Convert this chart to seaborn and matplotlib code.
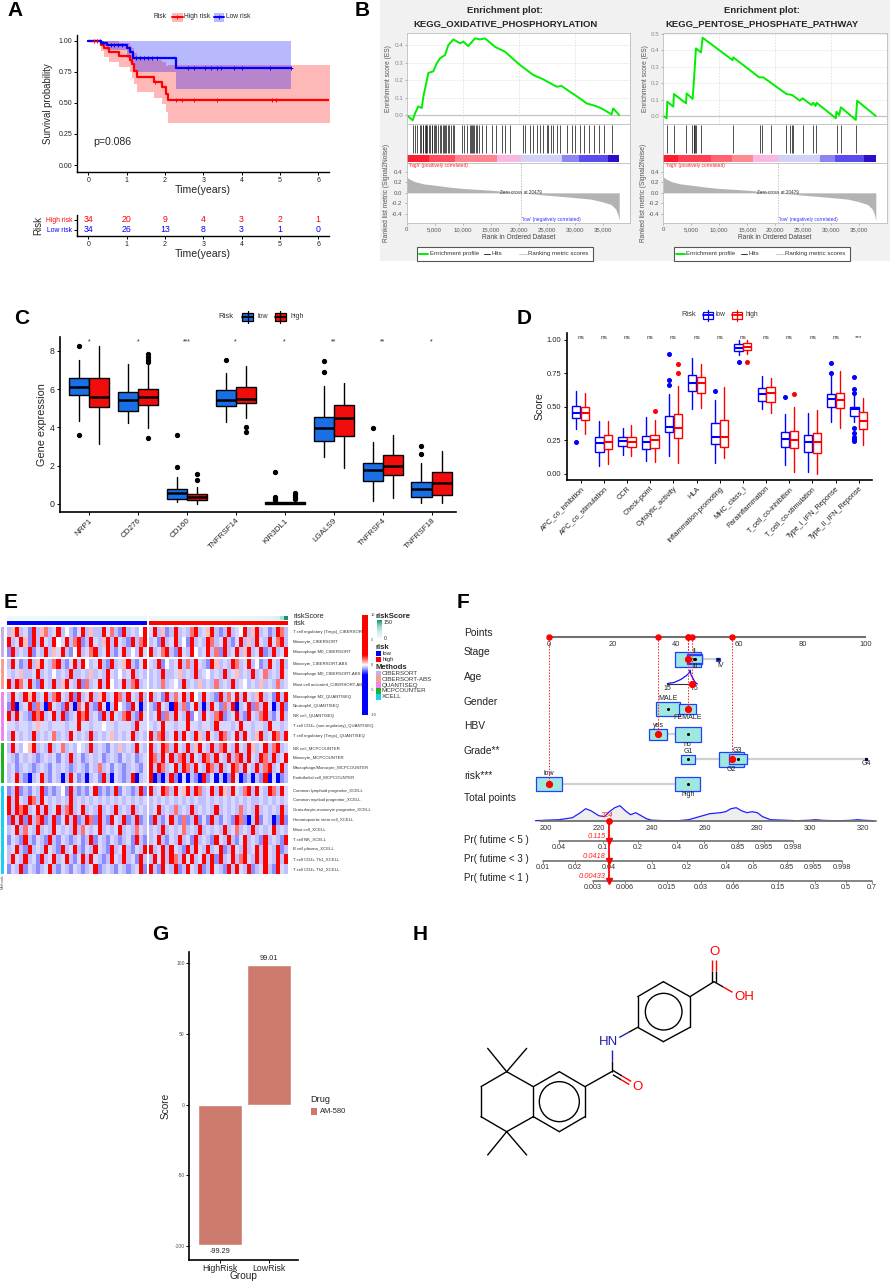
import numpy as np
import pandas as pd
import matplotlib
matplotlib.use("Agg")
import matplotlib.pyplot as plt
import seaborn as sns
from matplotlib.patches import Rectangle, Circle
from matplotlib.colors import LinearSegmentedColormap, ListedColormap

# ======================= DATA =======================
# ---- A: Kaplan-Meier ----
km_high_t = [0.0, 0.33, 0.42, 0.55, 0.80, 1.10, 1.14, 1.18, 1.28, 1.72, 1.93, 2.03, 2.08]
km_high_s = [1.0, 0.971, 0.941, 0.912, 0.882, 0.850, 0.815, 0.760, 0.710, 0.670, 0.625, 0.570, 0.520]
km_high_lo = [1.0, 0.92, 0.87, 0.83, 0.79, 0.75, 0.70, 0.65, 0.59, 0.54, 0.49, 0.43, 0.335]
km_high_hi = [1.0, 1.0, 1.0, 1.0, 0.98, 0.96, 0.94, 0.90, 0.87, 0.85, 0.83, 0.80, 0.81]
km_high_end = 6.3
km_low_t = [0.0, 0.32, 0.50, 1.02, 1.10, 1.16, 2.28]
km_low_s = [1.0, 0.985, 0.97, 0.94, 0.91, 0.86, 0.78]
km_low_lo = [1.0, 0.96, 0.93, 0.86, 0.82, 0.75, 0.61]
km_low_hi = [1.0, 1.0, 1.0, 1.0, 1.0, 1.0, 1.0]
km_low_end = 5.3
censor_high = [0.15, 0.22, 1.75, 2.3, 2.45, 2.75, 3.35, 4.8, 4.9]
censor_low = [0.3, 0.38, 0.6, 0.68, 0.78, 0.88, 1.25, 1.35, 1.45, 1.55, 1.65, 1.8,
              2.6, 2.75, 3.05, 3.2, 3.35, 3.45, 3.8, 4.0, 4.75, 5.3]
risk_times = [0, 1, 2, 3, 4, 5, 6]
n_high = [34, 20, 9, 4, 3, 2, 1]
n_low = [34, 26, 13, 8, 3, 1, 0]

# ---- B: GSEA (rank in thousands) ----
es1_rank = [0, 1.07, 1.49, 2.08, 2.68, 2.98, 3.87, 4.76, 5.36, 5.95, 6.85, 7.44, 8.33, 9.52, 10.12, 11.0,
            12.2, 13.1, 14.0, 15.77, 17.56, 20.24, 22.62, 24.4, 26.8, 27.68, 29.17, 30.95, 32.14, 33.81,
            34.82, 36.6, 36.9, 37.97]
es1_val = [0, -0.03, 0.01, 0.05, 0.04, 0.105, 0.24, 0.25, 0.295, 0.324, 0.343, 0.40, 0.432, 0.41, 0.419,
           0.394, 0.438, 0.432, 0.438, 0.39, 0.362, 0.286, 0.229, 0.204, 0.162, 0.166, 0.133, 0.095, 0.067,
           0.051, 0.038, 0.004, 0.038, 0.0]
es2_rank = [0, 0.6, 0.71, 1.79, 1.9, 4.05, 4.17, 5.24, 5.48, 5.83, 6.73, 7.02, 12.38, 12.5, 17.14, 17.86,
            22.02, 23.03, 24.4, 24.88, 26.49, 26.79, 27.2, 27.38, 30.83, 30.95, 31.43, 31.73, 34.4, 34.64, 37.97]
es2_val = [0, -0.014, 0.087, 0.057, 0.134, 0.077, 0.138, 0.104, 0.22, 0.413, 0.388, 0.478, 0.341, 0.358,
           0.236, 0.236, 0.134, 0.128, 0.093, 0.108, 0.067, 0.081, 0.061, 0.081, -0.014, 0.026, 0.006,
           0.053, -0.024, 0.093, 0.0]
hits1 = [1.2, 1.4, 1.8, 2.3, 2.6, 2.9, 3.0, 3.2, 3.4, 3.5, 3.7, 3.9, 4.2, 4.5, 4.6, 4.8, 5.0, 5.3, 5.6, 5.9,
         6.2, 6.4, 6.6, 6.9, 7.1, 7.3, 7.5, 7.9, 8.2, 8.5, 9.9, 10.3, 10.8, 11.3, 11.5, 11.7, 11.9, 12.1,
         12.3, 12.6, 13.0, 13.5, 14.1, 15.2, 15.9, 17.0, 17.6, 18.5, 20.8, 21.1, 22.1, 22.6, 23.2, 23.8,
         24.4, 25.0, 25.3, 25.7, 26.2, 26.8, 27.4, 28.6, 29.5, 30.1, 31.0, 31.6, 32.5, 33.4, 34.3, 35.2, 36.7]
hits2 = [0.6, 1.9, 4.0, 5.2, 5.4, 5.5, 5.7, 5.8, 6.8, 12.4, 17.3, 17.6, 19.2, 21.9, 22.7, 23.0, 23.2,
         24.9, 26.7, 27.3, 31.0, 31.7, 34.5]
seg1_bounds = [0, 3.9, 8.6, 16.1, 20.5, 27.7, 30.7, 36.0, 38.0]
seg1_colors = ['#ff1e2d', '#ff4d5d', '#ff8590', '#f8b8e2', '#d2d2f8', '#8c86f2', '#5a4cef', '#2a10c8']
seg2_bounds = [0, 2.7, 8.6, 12.2, 16.1, 20.5, 28.0, 30.7, 35.8, 38.0]
seg2_colors = ['#ff1e2d', '#ff4050', '#ff6570', '#ff8a92', '#f8b8e2', '#d2d2f8', '#8c86f2', '#5a4cef', '#2a10c8']
rm_rank = [0, 0.5, 1.5, 3, 5, 7.5, 10, 15, 20.48, 25, 30, 33, 35, 36.5, 37.3, 37.7, 37.97]
rm_val = [0.30, 0.26, 0.21, 0.17, 0.145, 0.11, 0.083, 0.05, 0.0, -0.044, -0.089, -0.12, -0.17, -0.22,
          -0.3, -0.4, -0.52]
b_xticks = [0, 5, 10, 15, 20, 25, 30, 35]
b_xtick_labels = ['0', '5,000', '10,000', '15,000', '20,000', '25,000', '30,000', '35,000']
b_titles = ['KEGG_OXIDATIVE_PHOSPHORYLATION', 'KEGG_PENTOSE_PHOSPHATE_PATHWAY']

# ---- C: immune checkpoint genes ----
genes_c = ['NRP1', 'CD276', 'CD160', 'TNFRSF14', 'KIR3DL1', 'LGALS9', 'TNFRSF4', 'TNFRSF18']
c_low_med = [6.09, 5.46, 0.56, 5.46, 0.05, 3.95, 1.77, 0.77]
c_low_q1 = [5.72, 4.87, 0.26, 5.11, 0.00, 3.29, 1.22, 0.35]
c_low_q3 = [6.61, 5.88, 0.77, 5.95, 0.12, 4.56, 2.12, 1.15]
c_low_wlo = [4.33, 4.21, 0.09, 4.30, 0.00, 2.47, 0.16, 0.03]
c_low_whi = [7.55, 7.34, 1.43, 6.87, 0.17, 6.16, 3.25, 2.12]
c_low_out = [[8.26, 3.60], [], [1.95, 3.63], [7.51], [0.21, 0.28, 0.35, 1.69], [6.90, 7.46], [3.95], [2.61, 3.03]]
c_high_med = [5.60, 5.60, 0.35, 5.48, 0.03, 4.52, 2.00, 1.11]
c_high_q1 = [5.08, 5.17, 0.21, 5.29, 0.00, 3.57, 1.51, 0.47]
c_high_q3 = [6.61, 6.03, 0.50, 6.09, 0.10, 5.17, 2.56, 1.69]
c_high_wlo = [3.13, 3.95, 0.02, 4.47, 0.00, 1.90, 0.33, 0.05]
c_high_whi = [8.28, 7.25, 0.90, 7.20, 0.20, 6.30, 3.63, 2.75]
c_high_out = [[], [7.43, 7.55, 7.69, 7.83, 3.43], [1.25, 1.57], [4.03, 3.77], [0.24, 0.35, 0.45, 0.56], [], [], []]
c_sig = ['*', '*', '***', '*', '*', '**', '**', '*']

# ---- D: immune function scores ----
d_cats = ['APC_co_inhibition', 'APC_co_stimulation', 'CCR', 'Check-point', 'Cytolytic_activity', 'HLA',
          'Inflammation-promoting', 'MHC_class_I', 'Parainflammation', 'T_cell_co-inhibition',
          'T_cell_co-stimulation', 'Type_I_IFN_Reponse', 'Type_II_IFN_Reponse']
d_low_med = [0.458, 0.229, 0.244, 0.241, 0.353, 0.682, 0.279, 0.943, 0.595, 0.259, 0.241, 0.557, 0.483]
d_low_q1 = [0.415, 0.167, 0.209, 0.187, 0.311, 0.622, 0.224, 0.918, 0.547, 0.199, 0.162, 0.498, 0.435]
d_low_q3 = [0.507, 0.279, 0.279, 0.284, 0.435, 0.739, 0.378, 0.968, 0.639, 0.316, 0.291, 0.595, 0.502]
d_low_wlo = [0.333, 0.062, 0.142, 0.097, 0.137, 0.483, 0.085, 0.888, 0.483, 0.067, 0.012, 0.386, 0.386]
d_low_whi = [0.622, 0.398, 0.341, 0.423, 0.595, 0.863, 0.552, 1.000, 0.731, 0.448, 0.458, 0.739, 0.595]
d_low_out = [[0.239], [], [], [], [0.893, 0.701, 0.664], [], [0.622], [0.838], [], [0.572], [],
             [0.826, 0.751], [0.721, 0.632, 0.607, 0.346, 0.303, 0.279, 0.259, 0.246]]
d_high_med = [0.453, 0.241, 0.241, 0.254, 0.341, 0.682, 0.274, 0.945, 0.602, 0.254, 0.241, 0.552, 0.398]
d_high_q1 = [0.403, 0.187, 0.204, 0.197, 0.266, 0.602, 0.199, 0.925, 0.540, 0.192, 0.159, 0.490, 0.336]
d_high_q3 = [0.497, 0.291, 0.279, 0.291, 0.445, 0.726, 0.403, 0.975, 0.647, 0.323, 0.308, 0.607, 0.465]
d_high_wlo = [0.296, 0.072, 0.137, 0.092, 0.080, 0.490, 0.117, 0.893, 0.453, 0.017, 0.000, 0.346, 0.216]
d_high_whi = [0.607, 0.398, 0.363, 0.403, 0.657, 0.821, 0.652, 1.000, 0.714, 0.502, 0.478, 0.769, 0.565]
d_high_out = [[], [], [], [0.470], [0.821, 0.756], [], [], [0.836], [], [0.597], [], [], []]
d_sig = ['ns'] * 12 + ['***']

# ---- E: immune cell infiltration heatmap ----
e_rows = ['T cell regulatory (Tregs)_CIBERSORT', 'Monocyte_CIBERSORT', 'Macrophage M0_CIBERSORT',
          'Monocyte_CIBERSORT-ABS', 'Macrophage M0_CIBERSORT-ABS', 'Mast cell activated_CIBERSORT-ABS',
          'Macrophage M2_QUANTISEQ', 'Neutrophil_QUANTISEQ', 'NK cell_QUANTISEQ',
          'T cell CD4+ (non-regulatory)_QUANTISEQ', 'T cell regulatory (Tregs)_QUANTISEQ',
          'NK cell_MCPCOUNTER', 'Monocyte_MCPCOUNTER', 'Macrophage/Monocyte_MCPCOUNTER',
          'Endothelial cell_MCPCOUNTER', 'Common lymphoid progenitor_XCELL', 'Common myeloid progenitor_XCELL',
          'Granulocyte-monocyte progenitor_XCELL', 'Hematopoietic stem cell_XCELL', 'Mast cell_XCELL',
          'T cell NK_XCELL', 'B cell plasma_XCELL', 'T cell CD4+ Th1_XCELL', 'T cell CD4+ Th2_XCELL']
e_methods = ['CIBERSORT', 'CIBERSORT-ABS', 'QUANTISEQ', 'MCPCOUNTER', 'XCELL']
e_method_sizes = [3, 3, 5, 4, 9]
e_method_colors = ['#c9aee6', '#f4a08c', '#ee86ee', '#1fb21f', '#1ad0f2']
# cell codes: B strong low ... R strong high (scaled values, low risk | high risk samples)
e_code_values = {'B': -2.0, 'b': -0.9, 'l': -0.5, 'm': -0.3, 'w': 0.0, 'p': 0.5, 'q': 1.1, 'R': 2.0}
e_cells = [
    "lpRlmbRlpq lmRlwlbmRl pllRmqlbRl mlwR | mRlpblRlml qRlmpRlblR lmwRlpRlmb lRql",
    "RlmRpbRlRm lRwmRlqRbl RmlpRlRmlb RlqR | lmbRlmRlwb RlmlRqlmRl bmRlplRmlR mqRl",
    "bRlmlRbmlR lpmRlbwRlm qRlmRlbmRl wlRm | RlmqRlbRml RwlmRlqbRl mRlpRlmRbl RlmR",
    "lRmblRlpRm lqRlbmRlRw lmRlbRlmpR lbmR | mlRbwlmRlq lRmlbRplml RqlmRlwblR mlRl",
    "mlmpllmRlm lwlmlRllml plmlRmlwlm Rlml | lmlRllmplm lRlmwlmlRl mplmlRlmql mlRm",
    "RlRqmRlbRm lRlpRmlRbq lmRlRwlmRl qRlm | lmlqlmwlRl mlplmlqlml Rlmwlmlplm lqlm",
    "lRmlRpRlmR lqRmlRbRlm RlpRlmRqlR mlRl | RlmbRlqmRl RwlRmlbRlq mRlRmlpRlm bRlR",
    "bRBlmRbqlB RmlbRlBqmR lbRmBlRwlb RmBl | lbRmlBRlqb mRlBlRmbql RBlmRbqlRm BlRb",
    "RlRmlbRqRl mRlRblmRqR lmbRlRmlqR lbRm | lmRbqlRmlR bwlRmlqRbl mRlbRmlqRl bmRl",
    "mmlmmlmpmm lmmmlmmRmm lmmwmmlmmm lRmm | mlmRmmlmmR mmlmmlRmmm lmRmmlmmlR mmlm",
    "lRmlmlRlml mqlmlRmlml Rlmlmplmlm Rlml | RlqRlmRlRm lRplRmlRql mRlRmlpRlm RqlR",
    "lRmlwpRlml Rlmqlmlwml Rlmlbmlplm lRml | RlmRqlRmlR lpRmlRlqRm lRmlRplmRl qRlm",
    "mlbmlmlblm lmbmlRlmbl mlmblmlbml mblm | RqlRmRlqRl RmlRqlRmlR lqRlRmlRql RlmR",
    "lmblmlblml bmlmlblmlb mlqlmbmlbl mlbm | RlRqlmRlRq lRmlRqlRlm RqlRmlRlqR lmRl",
    "lmRlbBlmRl bmlBlRmblB lmbRlBmlbl RBlm | RBbBlRbBmB lbBRbmBlBb RmBblBlbRB mBbl",
    "blRblbmlRb lblwbRlblb mRblblRbml blRb | RlmRqlRmpR lRqlmRlRpl RmlqRlRmlR qlRm",
    "RlRmlRqlRm lmlmlRlmlm lmlmlmlmlm lmlm | lmlmlmlmlm lmllmlmlml mlmlmllmlm lmlm",
    "RlRqRlmRlR lmRlqRlmRl mlRlmlRlml Rlml | lmRlmlqlml RlmlmlRlml mlqlmlRlml mlRl",
    "bRlRbRlqRb lRbmRlRblR qbRlbRmlRb lRbl | bRlbmRlbqb lRbmbRlbml bRqbBlRbml BbRb",
    "lmRlqmlRlm lRmlmlRlqm lmRlmlmRlm lqml | lmlRlmlmql mlRlmlmlRl mqlmlRlmlm Rlml",
    "bmlbRlbmlb Rlbmlblmbl Rbmlbmlblm bRlb | lmRlbmlRlm bRlmlbRmlR lbmRlmlbRl mlbR",
    "lmRlbRlmlR mlbRlmRlbm lRmlbRlmRl bmlR | RlmRlRmlbR lRmlRlmRbl RmlRlmRlRm lRbl",
    "lRmlRlmbRl mRlmRlbmRl RmlblRmlRl mbRl | lRmRlRqlRm RlmRlRbRlm RlqRmlRlRm lRlR",
    "bmlRbmlblm Rlbmlbmlbl mRblmlbmlb lmRb | RlbRmlRblR mlRblRmlbR lRmlRblmRl bRml",
]
risk_score_low = [0.8, 0.8, 0.9, 0.9, 0.9, 1.0, 1.0, 1.0, 1.1, 1.1, 1.1, 1.2, 1.2, 1.2, 1.3, 1.3, 1.3,
                  1.4, 1.4, 1.4, 1.5, 1.5, 1.5, 1.6, 1.6, 1.6, 1.7, 1.7, 1.7, 1.8, 1.8, 1.9, 1.9, 2.0]
risk_score_high = [2.1, 2.2, 2.3, 2.4, 2.5, 2.6, 2.7, 2.9, 3.0, 3.2, 3.4, 3.6, 3.8, 4.0, 4.3, 4.6, 5.0,
                   5.4, 5.8, 6.3, 6.9, 7.5, 8.2, 9.0, 10.0, 11.2, 12.6, 14.5, 17.0, 20.5, 26.0, 36.0, 80.0, 150.0]
risk_group_low = ['low'] * 34
risk_group_high = ['high'] * 34

# ---- F: nomogram (points scale 0-100) ----
stage_levels = ['I', 'II', 'III', 'IV']
stage_pts = [43.8, 45.8, 46.0, 53.2]
stage_box = [(26, 15), (15, 10), (14, 8), (4, 3)]
age_ticks = [15, 75]
age_pts_ends = [37.3, 45.8]
age_dens_x = [15, 20, 25, 30, 35, 40, 45, 50, 54, 57, 60, 63, 66, 68, 70, 73, 76, 79, 82]
age_dens_h = [0.3, 0.8, 1.2, 1.5, 2.5, 3.5, 4.5, 6.0, 7.5, 8.0, 9.5, 10.5, 14.0, 9.0, 7.5, 5.0, 2.5, 1.0, 0.0]
age_selected = 71
gender_levels = ['MALE', 'FEMALE']
gender_pts = [37.5, 43.8]
gender_box = [(24, 14.3), (17.3, 10.3)]
hbv_levels = ['yes', 'no']
hbv_pts = [34.4, 43.8]
hbv_box = [(18.3, 11), (25.7, 15)]
grade_levels = ['G1', 'G2', 'G3', 'G4']
grade_pts = [43.8, 57.6, 59.5, 100.0]
grade_box = [(14, 9), (24.7, 15), (18, 10.7), (2.7, 2.3)]
riskf_levels = ['low', 'high']
riskf_pts = [0.0, 43.8]
riskf_box = [(25.3, 14.7), (25, 14.7)]
sel_points = {'Stage': 43.8, 'Age': 45.2, 'Gender': 43.8, 'HBV': 34.4, 'Grade': 57.6, 'risk': 0.0}
total_ticks = [200, 220, 240, 260, 280, 300, 320]
tot_dens_x = [196, 200, 205, 210, 213, 215, 217, 220, 222, 224, 226, 228, 230, 232, 234, 236, 238, 240, 245,
              250, 254, 258, 262, 266, 268, 270, 272, 274, 276, 278, 280, 282, 285, 290, 295, 300, 302, 305,
              310, 315, 318, 320, 324]
tot_dens_h = [0, 0.5, 1, 3, 8, 12, 10, 5, 4, 9, 13, 15, 10, 6, 8, 5, 2, 0.5, 0, 0, 1, 4, 7, 8, 9, 12, 13, 10,
              8, 9, 8, 4, 1, 0.5, 0, 0.5, 1, 0.3, 0, 0.3, 1, 0.5, 0]
total_selected = 224
pr5_labels = ['0.04', '0.1', '0.2', '0.4', '0.6', '0.85', '0.965', '0.998']
pr5_tot = [204.9, 221.6, 234.8, 249.6, 259.8, 272.7, 282.5, 293.5]
pr3_labels = ['0.01', '0.02', '0.04', '0.1', '0.2', '0.4', '0.6', '0.85', '0.965', '0.998']
pr3_tot = [198.9, 211.0, 223.8, 240.1, 253.4, 268.1, 278.3, 291.2, 301.1, 312.0]
pr1_labels = ['0.003', '0.006', '0.015', '0.03', '0.06', '0.15', '0.3', '0.5', '0.7']
pr1_tot = [217.8, 229.9, 245.8, 258.7, 270.8, 287.8, 301.8, 313.6, 323.4]
pr_selected = ['0.115', '0.0418', '0.00433']

# ---- G: drug sensitivity ----
g_groups = ['HighRisk', 'LowRisk']
g_scores = [-99.29, 99.01]
g_drug = 'AM-580'

# ---- H: AM-580 structure (drawing coordinates) ----
mol_atoms = [(290, 395), (233, 325), (350, 325), (213, 440), (213, 530), (290, 575), (233, 645), (350, 645),
             (370, 530), (370, 440), (448, 395), (525, 440), (525, 530), (448, 575), (605, 395), (680, 440),
             (605, 305), (683, 262), (683, 170), (760, 125), (840, 170), (840, 262), (760, 305), (912, 125),
             (912, 35), (990, 170)]
mol_bonds = [(0, 1), (0, 2), (0, 3), (3, 4), (4, 5), (5, 6), (5, 7), (5, 8), (0, 9), (8, 9), (9, 10), (10, 11),
             (11, 12), (12, 13), (13, 8), (11, 14), (17, 18), (18, 19), (19, 20), (20, 21), (21, 22), (22, 17),
             (20, 23)]
mol_rings = [((448, 485), 60), ((761, 215), 55)]

# ======================= FIGURE =======================
sns.set_theme(style="white")
plt.rcParams['font.family'] = ['Liberation Sans', 'DejaVu Sans']
plt.rcParams['axes.unicode_minus'] = False
NARROW = ['Liberation Sans Narrow', 'Liberation Sans', 'DejaVu Sans']

W, H = 892, 1281
fig = plt.figure(figsize=(W / 100, H / 100), dpi=100)
fig.patch.set_facecolor('white')


def add_ax(x0, y0, x1, y1, **kw):
    return fig.add_axes([x0 / W, 1 - y1 / H, (x1 - x0) / W, (y1 - y0) / H], **kw)


def px_axes(z):
    a = fig.add_axes([0, 0, 1, 1], zorder=z)
    a.set_xlim(0, W)
    a.set_ylim(H, 0)
    a.axis('off')
    a.patch.set_alpha(0)
    return a


bg = px_axes(-10)
ov = px_axes(20)


def gg(ax, lw=1.0, size=5.0):
    for s in ['top', 'right']:
        ax.spines[s].set_visible(False)
    for s in ['left', 'bottom']:
        ax.spines[s].set_color('black')
        ax.spines[s].set_linewidth(lw)
    ax.tick_params(axis='both', which='both', direction='out', length=2.5, width=0.7, color='black',
                   labelcolor='#222222', pad=1.2, labelsize=size, bottom=True, left=True)
    ax.set_facecolor('none')


# panel letters
for lab, x, y, fam in [('A', 15, 10, None), ('B', 362, 10, None), ('C', 22, 318, None), ('D', 524, 318, None),
                       ('E', 11, 602, None), ('F', 463, 602, None), ('G', 160, 935, NARROW),
                       ('H', 420, 935, NARROW)]:
    kw = dict(fontsize=15, fontweight='bold', ha='center', va='center', color='black')
    if fam:
        kw['family'] = fam
    ov.text(x, y, lab, **kw)

# ---------------- A ----------------
def ext(t, v, end):
    return np.append(np.asarray(t, float), end), np.append(np.asarray(v, float), v[-1])


th, sh = ext(km_high_t, km_high_s, km_high_end)
_, loh = ext(km_high_t, km_high_lo, km_high_end)
_, hih = ext(km_high_t, km_high_hi, km_high_end)
tl, sl = ext(km_low_t, km_low_s, km_low_end)
_, lol = ext(km_low_t, km_low_lo, km_low_end)
_, hil = ext(km_low_t, km_low_hi, km_low_end)

axA = add_ax(77.3, 35, 329, 171.7)
gg(axA, 1.0, 5.0)
axA.fill_between(th, loh, hih, step='post', color='#ff0000', alpha=0.28, lw=0)
axA.fill_between(tl, lol, hil, step='post', color='#0000ff', alpha=0.28, lw=0)
sns.lineplot(x=th, y=sh, ax=axA, color='#ff0000', lw=1.6, drawstyle='steps-post', estimator=None, sort=False)
sns.lineplot(x=tl, y=sl, ax=axA, color='#0000ff', lw=1.6, drawstyle='steps-post', estimator=None, sort=False)


def surv_at(t_arr, s_arr, c):
    return s_arr[np.searchsorted(t_arr, c, side='right') - 1]


axA.plot(censor_high, [surv_at(th, sh, c) for c in censor_high], '+', color='#ff0000', ms=3.5, mew=0.7)
axA.plot(censor_low, [surv_at(tl, sl, c) for c in censor_low], '+', color='#0000ff', ms=3.5, mew=0.7)
axA.set_xlim(-0.287, 6.28)
axA.set_ylim(-0.054, 1.048)
axA.set_xticks(risk_times)
axA.set_yticks([0, 0.25, 0.5, 0.75, 1.0])
axA.set_yticklabels(['0.00', '0.25', '0.50', '0.75', '1.00'])
axA.set_xlabel('Time(years)', fontsize=7.6, labelpad=0.5)
axA.set_ylabel('Survival probability', fontsize=6.9, labelpad=4)
axA.text(0.12, 0.185, 'p=0.086', fontsize=7.6, ha='left', va='center')

ov.text(154, 17, 'Risk', fontsize=4.8, ha='left', va='center')
for x0, col, lab in [(172, '#ff0000', 'High risk'), (213.5, '#0000ff', 'Low risk')]:
    ov.add_patch(Rectangle((x0, 12.5), 10.5, 9, color=col, alpha=0.28, lw=0))
    ov.plot([x0, x0 + 10.5], [17, 17], color=col, lw=1.4)
    ov.plot([x0 + 5.2], [17], '+', color=col, ms=3, mew=0.7)
    ov.text(x0 + 12.5, 17, lab, fontsize=4.8, ha='left', va='center')

axR = add_ax(77.3, 215, 329, 236)
gg(axR, 1.0, 5.0)
axR.set_xlim(-0.287, 6.28)
axR.set_ylim(-0.6, 1.5)
for t, a, b in zip(risk_times, n_high, n_low):
    axR.text(t, 1, str(a), color='#ff0000', ha='center', va='center', fontsize=6.3)
    axR.text(t, 0, str(b), color='#0000ff', ha='center', va='center', fontsize=6.3)
axR.set_xticks(risk_times)
axR.set_yticks([1, 0])
axR.set_yticklabels(['High risk', 'Low risk'], fontsize=4.9)
for tkl, col in zip(axR.get_yticklabels(), ['#ff0000', '#0000ff']):
    tkl.set_color(col)
axR.set_xlabel('Time(years)', fontsize=7.6, labelpad=0.5)
axR.set_ylabel('Risk', fontsize=7, labelpad=2)

# ---------------- B ----------------
bg.add_patch(Rectangle((380, 0), 510, 261, color='#f1f1f1', lw=0))


def gsea_panel(x0, es_ylim, es_r, es_v, hits, sb, sc, title2, es_ticks):
    x1 = x0 + 223.3
    cx = x0 + 98.3
    ov.text(cx, 10.7, 'Enrichment plot:', fontsize=6.8, fontweight='bold', ha='center', va='center')
    ov.text(cx, 24, title2, fontsize=6.8, fontweight='bold', ha='center', va='center')
    axE = add_ax(x0, 33.3, x1, 124)
    axE.set_facecolor('white')
    for s in axE.spines.values():
        s.set_color('#bdbdbd')
        s.set_linewidth(0.6)
    for v in [10, 20, 30]:
        axE.axvline(v, color='#d9d9d9', lw=0.5, ls=(0, (2, 2)))
    for v in es_ticks[1:]:
        axE.axhline(v, color='#d9d9d9', lw=0.5, ls=(0, (2, 2)))
    axE.axhline(0, color='#c4c4c4', lw=0.9)
    sns.lineplot(x=es_r, y=es_v, ax=axE, color='#00ee00', lw=1.4, estimator=None, sort=False)
    axE.set_xlim(0, 39.9)
    axE.set_ylim(*es_ylim)
    axE.set_xticks([])
    axE.set_yticks(es_ticks)
    axE.set_yticklabels(['%.1f' % v for v in es_ticks])
    axE.tick_params(axis='y', labelsize=4.5, labelcolor='#8a8a8a', length=1.5, width=0.5, color='#999999',
                    left=True, pad=1)
    axE.set_ylabel('Enrichment score (ES)', fontsize=4.8, color='#555555', labelpad=1.5)

    axHt = add_ax(x0, 124, x1, 163)
    axHt.set_facecolor('white')
    for s in axHt.spines.values():
        s.set_color('#bdbdbd')
        s.set_linewidth(0.6)
    axHt.vlines(hits, 0.23, 0.97, color='#202020', lw=0.55)
    for a, b, c in zip(sb[:-1], sb[1:], sc):
        axHt.add_patch(Rectangle((a, 0.0), b - a, 0.2, color=c, lw=0))
    axHt.set_xlim(0, 39.9)
    axHt.set_ylim(-0.02, 1)
    axHt.set_xticks([])
    axHt.set_yticks([])

    axM = add_ax(x0, 163, x1, 223)
    axM.set_facecolor('white')
    for s in axM.spines.values():
        s.set_color('#bdbdbd')
        s.set_linewidth(0.6)
    axM.fill_between(rm_rank, 0, rm_val, color='#b3b3b3', lw=0)
    axM.axvline(20.479, color='#aaaaaa', lw=0.5, ls=(0, (2, 2)))
    axM.text(20.479, 0.0, 'Zero cross at 20479', fontsize=3.3, ha='center', va='center', color='#333333')
    axM.text(0.5, 0.51, "'high' (positively correlated)", fontsize=3.4, ha='left', va='center', color='#ff2020')
    axM.text(25.9, -0.5, "'low' (negatively correlated)", fontsize=3.4, ha='center', va='center', color='#3030ff')
    axM.set_xlim(0, 39.9)
    axM.set_ylim(-0.57, 0.564)
    axM.set_yticks([-0.4, -0.2, 0.0, 0.2, 0.4])
    axM.set_yticklabels(['-0.4', '-0.2', '0.0', '0.2', '0.4'])
    axM.set_xticks(b_xticks)
    axM.set_xticklabels(b_xtick_labels)
    axM.tick_params(axis='both', labelsize=4.3, labelcolor='#555555', length=1.5, width=0.5, color='#999999',
                    left=True, bottom=True, pad=1.5)
    axM.set_xlabel('Rank in Ordered Dataset', fontsize=4.8, color='#444444', labelpad=1.5)
    axM.set_ylabel('Ranked list metric (Signal2Noise)', fontsize=4.8, color='#555555', labelpad=1.5)

    lx = x0 + 10.3
    ov.add_patch(Rectangle((lx, 247), 176, 13.5, facecolor='white', edgecolor='#555555', lw=0.8))
    ov.plot([lx + 2, lx + 11], [253.7, 253.7], color='#00ee00', lw=1.4)
    ov.text(lx + 12.5, 253.7, 'Enrichment profile', fontsize=4.4, ha='left', va='center', color='#333333')
    ov.plot([lx + 67, lx + 73], [253.7, 253.7], color='#333333', lw=0.7)
    ov.text(lx + 75, 253.7, 'Hits', fontsize=4.4, ha='left', va='center', color='#333333')
    ov.plot([lx + 102, lx + 110], [253.7, 253.7], color='#cfcfcf', lw=0.8)
    ov.text(lx + 111.5, 253.7, 'Ranking metric scores', fontsize=4.4, ha='left', va='center', color='#333333')


gsea_panel(406.7, (-0.051, 0.467), es1_rank, es1_val, hits1, seg1_bounds, seg1_colors, b_titles[0],
           [0.0, 0.1, 0.2, 0.3, 0.4])
gsea_panel(663.3, (-0.049, 0.505), es2_rank, es2_val, hits2, seg2_bounds, seg2_colors, b_titles[1],
           [0.0, 0.1, 0.2, 0.3, 0.4, 0.5])


# ---------------- C ----------------
def make_stats(med, q1, q3, wlo, whi, out):
    return [dict(med=m, q1=a, q3=b, whislo=c, whishi=d, fliers=np.array(f, float))
            for m, a, b, c, d, f in zip(med, q1, q3, wlo, whi, out)]


axC = add_ax(60, 337, 456, 512)
gg(axC, 1.2, 6.3)
pos = np.arange(len(genes_c))
for stats, off, col in [(make_stats(c_low_med, c_low_q1, c_low_q3, c_low_wlo, c_low_whi, c_low_out), -0.205, '#1a6fe6'),
                        (make_stats(c_high_med, c_high_q1, c_high_q3, c_high_wlo, c_high_whi, c_high_out), 0.205, '#f20d0d')]:
    axC.bxp(stats, positions=pos + off, widths=0.41, patch_artist=True, showcaps=False, manage_ticks=False,
            boxprops=dict(facecolor=col, edgecolor='black', linewidth=1.0),
            medianprops=dict(color='black', linewidth=1.8),
            whiskerprops=dict(color='black', linewidth=1.0),
            flierprops=dict(marker='o', markerfacecolor='black', markeredgecolor='black', markersize=2.8,
                            linestyle='none'))
for i, s in enumerate(c_sig):
    axC.text(i, 8.5, s, fontsize=5, ha='center', va='center')
axC.set_xlim(-0.59, 7.5)
axC.set_ylim(-0.42, 8.73)
axC.set_yticks([0, 2, 4, 6, 8])
axC.set_xticks(pos)
axC.set_xticklabels(genes_c, rotation=45, ha='right', va='top', rotation_mode='anchor', fontsize=5.8)
axC.set_ylabel('Gene expression', fontsize=7.8, labelpad=2)


def box_icon(x0, y0, w, h, face, edge, lw=0.9):
    ov.plot([x0 + w / 2, x0 + w / 2], [y0 - 2, y0 + h + 2], color=edge, lw=lw)
    ov.add_patch(Rectangle((x0, y0), w, h, facecolor=face, edgecolor=edge, lw=lw))
    ov.plot([x0, x0 + w], [y0 + h / 2, y0 + h / 2], color=edge, lw=lw + 0.4)


ov.text(218, 317, 'Risk', fontsize=5.6, ha='left', va='center', color='#333333')
box_icon(242, 313, 11, 8, '#1a6fe6', 'black')
ov.text(257, 317, 'low', fontsize=5.0, ha='left', va='center', color='#333333')
box_icon(274.5, 313, 11, 8, '#f20d0d', 'black')
ov.text(290.5, 317, 'high', fontsize=5.0, ha='left', va='center', color='#333333')

# ---------------- D ----------------
axD = add_ax(566.7, 333, 872.3, 480)
gg(axD, 1.2, 5.4)
posd = np.arange(len(d_cats))
for stats, off, col in [(make_stats(d_low_med, d_low_q1, d_low_q3, d_low_wlo, d_low_whi, d_low_out), -0.19, '#0000ff'),
                        (make_stats(d_high_med, d_high_q1, d_high_q3, d_high_wlo, d_high_whi, d_high_out), 0.19, '#ff0000')]:
    axD.bxp(stats, positions=posd + off, widths=0.36, patch_artist=True, showcaps=False, manage_ticks=False,
            boxprops=dict(facecolor='white', edgecolor=col, linewidth=1.0),
            medianprops=dict(color=col, linewidth=1.5),
            whiskerprops=dict(color=col, linewidth=1.0),
            flierprops=dict(marker='o', markerfacecolor=col, markeredgecolor=col, markersize=2.6,
                            linestyle='none'))
for i, s in enumerate(d_sig):
    axD.text(i, 1.02, s, fontsize=4.6, ha='center', va='center', color='#333333')
axD.set_xlim(-0.6, 12.58)
axD.set_ylim(-0.045, 1.052)
axD.set_yticks([0, 0.25, 0.5, 0.75, 1.0])
axD.set_yticklabels(['0.00', '0.25', '0.50', '0.75', '1.00'])
axD.set_xticks(posd)
axD.set_xticklabels(d_cats, rotation=45, ha='right', va='top', rotation_mode='anchor', fontsize=5.2)
axD.set_ylabel('Score', fontsize=7.6, labelpad=2)

ov.text(681, 315, 'Risk', fontsize=5.4, ha='left', va='center', color='#333333')
box_icon(702.5, 311.5, 10, 7, 'white', '#0000ff')
ov.text(716, 315, 'low', fontsize=4.8, ha='left', va='center', color='#333333')
box_icon(732, 311.5, 10, 7, 'white', '#ff0000')
ov.text(745, 315, 'high', fontsize=4.8, ha='left', va='center', color='#333333')

# ---------------- E ----------------
e_cmap = LinearSegmentedColormap.from_list('bwr_e', ['#0000ff', '#ffffff', '#ff0000'])
e_vals = []
for s in e_cells:
    halves = s.split('|')
    e_vals.append([[e_code_values[c] for c in (h.replace(' ', '') + 'l' * 34)[:34]] for h in halves])
e_group_y = [(627.3, 656.7), (659.0, 689.0), (691.7, 740.7), (743.3, 782.7), (785.7, 874.0)]
e_cols_x = [(7, 147), (149, 288)]

rs_cmap = LinearSegmentedColormap.from_list('rs', ['#eef9f9', '#cdeeea', '#8fd5c9', '#12966a'])
risk_cmap = ListedColormap(['#0000ff', '#ff0000'])
for (xa, xb), scores, groups in zip(e_cols_x, [risk_score_low, risk_score_high], [risk_group_low, risk_group_high]):
    a = add_ax(xa, 616, xb, 620)
    sns.heatmap(np.array(scores)[None, :], ax=a, cmap=rs_cmap, vmin=0, vmax=150, cbar=False,
                xticklabels=False, yticklabels=False)
    b = add_ax(xa, 621, xb, 625)
    sns.heatmap(np.array([[0 if g == 'low' else 1 for g in groups]]), ax=b, cmap=risk_cmap, vmin=0, vmax=1,
                cbar=False, xticklabels=False, yticklabels=False)
ov.text(293, 617, 'riskScore', fontsize=5.3, ha='left', va='center', color='#222222')
ov.text(293, 623.5, 'risk', fontsize=5.3, ha='left', va='center', color='#222222')

r0 = 0
for gi, (size, (ya, yb)) in enumerate(zip(e_method_sizes, e_group_y)):
    for half, (xa, xb) in enumerate(e_cols_x):
        mat = np.array([e_vals[r][half] for r in range(r0, r0 + size)])
        a = add_ax(xa, ya, xb, yb)
        sns.heatmap(mat, ax=a, cmap=e_cmap, vmin=-2, vmax=2, cbar=False, xticklabels=False, yticklabels=False)
    ov.add_patch(Rectangle((0.5, ya), 3.6, yb - ya, color=e_method_colors[gi], lw=0))
    rh = (yb - ya) / size
    for k in range(size):
        ov.text(293, ya + (k + 0.5) * rh, e_rows[r0 + k], fontsize=3.1, ha='left', va='center', color='#333333')
    r0 += size
ov.text(2.5, 882, 'Methods', fontsize=2.8, rotation=90, ha='center', va='center', color='#555555')

# legend for E
axCb = add_ax(362, 615, 368, 715)
axCb.imshow(np.linspace(10, -10, 200)[:, None], aspect='auto', cmap=e_cmap, vmin=-2, vmax=2)
axCb.axis('off')
for v in [10, 5, 0, -5, -10]:
    ov.text(370.5, 615 + (10 - v) / 20 * 100, str(v), fontsize=2.9, ha='left', va='center', color='#444444')
ov.text(375.5, 616, 'riskScore', fontsize=5.6, fontweight='bold', ha='left', va='center')
axRs = add_ax(376.5, 620, 381.5, 638)
axRs.imshow(np.linspace(150, 0, 60)[:, None], aspect='auto', cmap=rs_cmap, vmin=0, vmax=150)
axRs.axis('off')
ov.text(383.3, 622.3, '150', fontsize=3.8, ha='left', va='center')
ov.text(383.3, 639, '0', fontsize=3.8, ha='left', va='center')
ov.text(375.5, 647.3, 'risk', fontsize=5.6, fontweight='bold', ha='left', va='center')
ov.add_patch(Rectangle((376, 651), 5.3, 5.3, color='#0000ff', lw=0))
ov.add_patch(Rectangle((376, 656.5), 5.3, 5.3, color='#ff0000', lw=0))
ov.text(382.7, 653.6, 'low', fontsize=4.3, ha='left', va='center')
ov.text(382.7, 659.2, 'high', fontsize=4.3, ha='left', va='center')
ov.text(375, 667.3, 'Methods', fontsize=5.6, fontweight='bold', ha='left', va='center')
for k, (m, c) in enumerate(zip(e_methods, e_method_colors)):
    yy = 673.3 + k * 5.85
    ov.add_patch(Rectangle((376, yy - 2.8), 5.3, 5.6, color=c, lw=0))
    ov.text(381.8, yy, m, fontsize=4.5, ha='left', va='center', color='#333333')

# ---------------- F ----------------
PXS = 3.17
axF = add_ax(440, 595, 892, 905)
axF.set_xlim((440 - 549) / PXS, (892 - 549) / PXS)
axF.set_ylim(905, 595)
axF.axis('off')


def tp(total):
    return (546 + (np.asarray(total, float) - 200) / 0.3785 - 549) / PXS


f_row_labels = ['Points', 'Stage', 'Age', 'Gender', 'HBV', 'Grade**', 'risk***', 'Total points',
                'Pr( futime < 5 )', 'Pr( futime < 3 )', 'Pr( futime < 1 )']
f_row_label_y = [633.3, 651.7, 676.7, 701.7, 726, 751.3, 776, 798.3, 840, 859.3, 878.3]
LX = (464 - 549) / PXS
for lab, yy in zip(f_row_labels, f_row_label_y):
    fs = 7.4 if not lab.startswith('Pr') else 7.0
    axF.text(LX, yy, lab, fontsize=fs, ha='left', va='center', color='#222222')

# points axis
axF.plot([0, 100], [637, 637], color='#707070', lw=1.5, solid_capstyle='butt')
for v in range(0, 101, 20):
    axF.text(v, 644.5, str(v), fontsize=5.4, ha='center', va='center', color='#333333')

BOXF = '#9fe8df'
BOXE = '#2040ff'


def nomo_row(y, pts, boxes, labels, places, red_idx=None):
    axF.plot([min(pts), max(pts)], [y, y], color='#d0d0d0', lw=1.6, zorder=1)
    for p, (w, h), lab, pl in zip(pts, boxes, labels, places):
        axF.add_patch(Rectangle((p - w / 2 / PXS, y - h / 2), w / PXS, h, facecolor=BOXF, edgecolor=BOXE,
                                lw=0.9, zorder=2))
        axF.plot([p], [y], 'o', color='black', ms=1.2, zorder=3)
        if pl == 'above':
            axF.text(p, y - h / 2 - 3.2, lab, fontsize=5.0, ha='center', va='center', color='#222222')
        elif pl == 'below':
            axF.text(p, y + h / 2 + 3.2, lab, fontsize=5.0, ha='center', va='center', color='#222222')
        elif pl == 'belowright':
            axF.text(p + 1, y + h / 2 + 4.5, lab, fontsize=5.0, ha='center', va='center', color='#222222')
    if red_idx is not None:
        axF.plot([pts[red_idx]], [y], 'o', color='#ff0000', ms=4.2, zorder=4)


ROW_Y = {'Stage': 659.2, 'Age': 684, 'Gender': 708.8, 'HBV': 734.2, 'Grade': 759, 'risk': 784}
nomo_row(ROW_Y['Stage'], stage_pts, stage_box, stage_levels, ['', 'above', 'below', 'belowright'], 0)
nomo_row(ROW_Y['Gender'], gender_pts, gender_box, gender_levels, ['above', 'below'], 1)
nomo_row(ROW_Y['HBV'], hbv_pts, hbv_box, hbv_levels, ['above', 'below'], 0)
nomo_row(ROW_Y['Grade'], grade_pts, grade_box, grade_levels, ['above', 'below', 'above', 'below'], 1)
nomo_row(ROW_Y['risk'], riskf_pts, riskf_box, riskf_levels, ['above', 'below'], 0)


def age_pts(a):
    return age_pts_ends[0] + (np.asarray(a, float) - age_ticks[0]) * (age_pts_ends[1] - age_pts_ends[0]) / (age_ticks[1] - age_ticks[0])


ya = ROW_Y['Age']
axF.plot(age_pts(age_ticks), [ya, ya], color='#333333', lw=0.8)
axF.plot(age_pts(age_dens_x), ya - np.array(age_dens_h), color='#1010ff', lw=0.9)
for a in age_ticks:
    axF.text(age_pts(a), ya + 4.5, str(a), fontsize=5.0, ha='center', va='center', color='#222222')
axF.plot([age_pts(age_selected)], [ya], 'o', color='#ff0000', ms=4.2, zorder=4)

# red dotted guide lines
for var, p in sel_points.items():
    axF.plot([p, p], [637, ROW_Y[var]], color='#ff2020', lw=0.7, ls=(0, (1.5, 1.5)), zorder=3)
    axF.plot([p], [637], 'o', color='#ff0000', ms=3.6, zorder=5)

# total points
yt = 820.7
axF.fill_between(tp(tot_dens_x), yt - np.array(tot_dens_h), yt, color='#eeeeee', lw=0)
axF.plot(tp(tot_dens_x), yt - np.array(tot_dens_h), color='#2020ff', lw=0.9)
axF.plot(tp([197.7, 325]), [yt, yt], color='#707070', lw=1.3)
for v in total_ticks:
    axF.text(tp(v), yt + 7.3, str(v), fontsize=5.4, ha='center', va='center', color='#333333')

for yy, labels, tots in [(840.7, pr5_labels, pr5_tot), (860.7, pr3_labels, pr3_tot), (880.7, pr1_labels, pr1_tot)]:
    axF.plot(tp([tots[0], tots[-1]]), [yy, yy], color='#707070', lw=1.2)
    for lab, t in zip(labels, tots):
        axF.plot([tp(t), tp(t)], [yy, yy + 1.8], color='#707070', lw=0.6)
        axF.text(tp(t), yy + 7, lab, fontsize=5.2, ha='center', va='center', color='#333333')

xs = tp(total_selected)
axF.plot([xs, xs], [yt, 880.7], color='#ff0000', lw=1.3, zorder=5)
axF.plot([xs], [yt], 'o', color='#ff0000', ms=3.8, zorder=6)
axF.text(xs - 1.0, yt - 5.5, str(total_selected), fontsize=5.4, color='#ff2020', style='italic', ha='center',
         va='center')
for yy, lab in zip([840.7, 860.7, 880.7], pr_selected):
    axF.plot([xs], [yy], 'v', color='#ff0000', ms=4.6, zorder=6)
    axF.text(xs - 1.2, yy - 4.3, lab, fontsize=5.4, color='#ff2020', style='italic', ha='right', va='center')

# ---------------- G ----------------
axG = add_ax(189, 952, 298, 1260)
sns.barplot(x=g_groups, y=g_scores, ax=axG, color='#cd7a6e', saturation=1, width=0.89)
gg(axG, 1.2, 3.6)
axG.set_xlim(-0.62, 1.58)
axG.set_ylim(-109.9, 108)
axG.set_yticks([-100, -50, 0, 50, 100])
axG.tick_params(axis='y', labelcolor='#555555', length=2, pad=1)
axG.tick_params(axis='x', labelsize=6.3, length=2, pad=1)
for tkl in axG.get_xticklabels() + axG.get_yticklabels():
    tkl.set_family(NARROW)
for i, v in enumerate(g_scores):
    axG.text(i, v + (2 if v > 0 else -2), '%.2f' % v, fontsize=5.2, ha='center',
             va='bottom' if v > 0 else 'top', family=NARROW, color='#222222')
axG.set_xlabel('Group', fontsize=7.3, labelpad=-1.5, family=NARROW)
axG.set_ylabel('Score', fontsize=7.3, labelpad=3, family=NARROW)
ov.text(310, 1099, 'Drug', fontsize=6.6, ha='left', va='center', family=NARROW, color='#222222')
ov.add_patch(Rectangle((310.5, 1107.5), 6.8, 7.5, color='#cd7a6e', lw=0))
ov.text(320.3, 1111.2, g_drug, fontsize=5.4, ha='left', va='center', family=NARROW, color='#222222')

# ---------------- H ----------------
axH = add_ax(410, 940, 770, 1200)
axH.set_xlim(0, 1080)
axH.set_ylim(780, 0)
axH.axis('off')
P = np.array(mol_atoms, float)


def seg(p, q, c1, c2=None, sp=0.0, sq=0.0, off=0.0):
    p = np.array(p, float)
    q = np.array(q, float)
    u = (q - p) / np.hypot(*(q - p))
    n = np.array([-u[1], u[0]]) * off
    a = p + u * sp + n
    b = q - u * sq + n
    if c2 is None:
        axH.plot([a[0], b[0]], [a[1], b[1]], color=c1, lw=1.0, solid_capstyle='round')
    else:
        m = (a + b) / 2
        axH.plot([a[0], m[0]], [a[1], m[1]], color=c1, lw=1.0, solid_capstyle='butt')
        axH.plot([m[0], b[0]], [m[1], b[1]], color=c2, lw=1.0, solid_capstyle='butt')


for i, j in mol_bonds:
    seg(P[i], P[j], 'black')
for (cx, cy), r in mol_rings:
    axH.add_patch(Circle((cx, cy), r, fill=False, lw=1.0, color='black'))
# amide C=O
seg(P[14], P[15], 'black', '#ff0000', 0, 22, -5)
seg(P[14], P[15], 'black', '#ff0000', 8, 22, 6)
# C-N and N-aryl
seg(P[14], P[16], 'black', '#2020b0', 0, 26)
seg(P[16], P[17], '#2020b0', 'black', 26, 0)
# carboxylic acid
seg(P[23], P[24], 'black', '#ff0000', 0, 24, -5)
seg(P[23], P[24], 'black', '#ff0000', 0, 24, 5)
seg(P[23], P[25], 'black', '#ff0000', 0, 26)
axH.text(P[15][0] + 3, P[15][1] + 2, 'O', fontsize=9.5, color='#ff0000', ha='center', va='center')
axH.text(P[16][0] - 8, P[16][1], 'HN', fontsize=9.5, color='#2020b0', ha='center', va='center')
axH.text(P[24][0] + 3, P[24][1], 'O', fontsize=9.5, color='#ff0000', ha='center', va='center')
axH.text(P[25][0] + 14, P[25][1], 'OH', fontsize=9.5, color='#ff0000', ha='center', va='center')

fig.savefig('out.png', dpi=100, facecolor='white')
